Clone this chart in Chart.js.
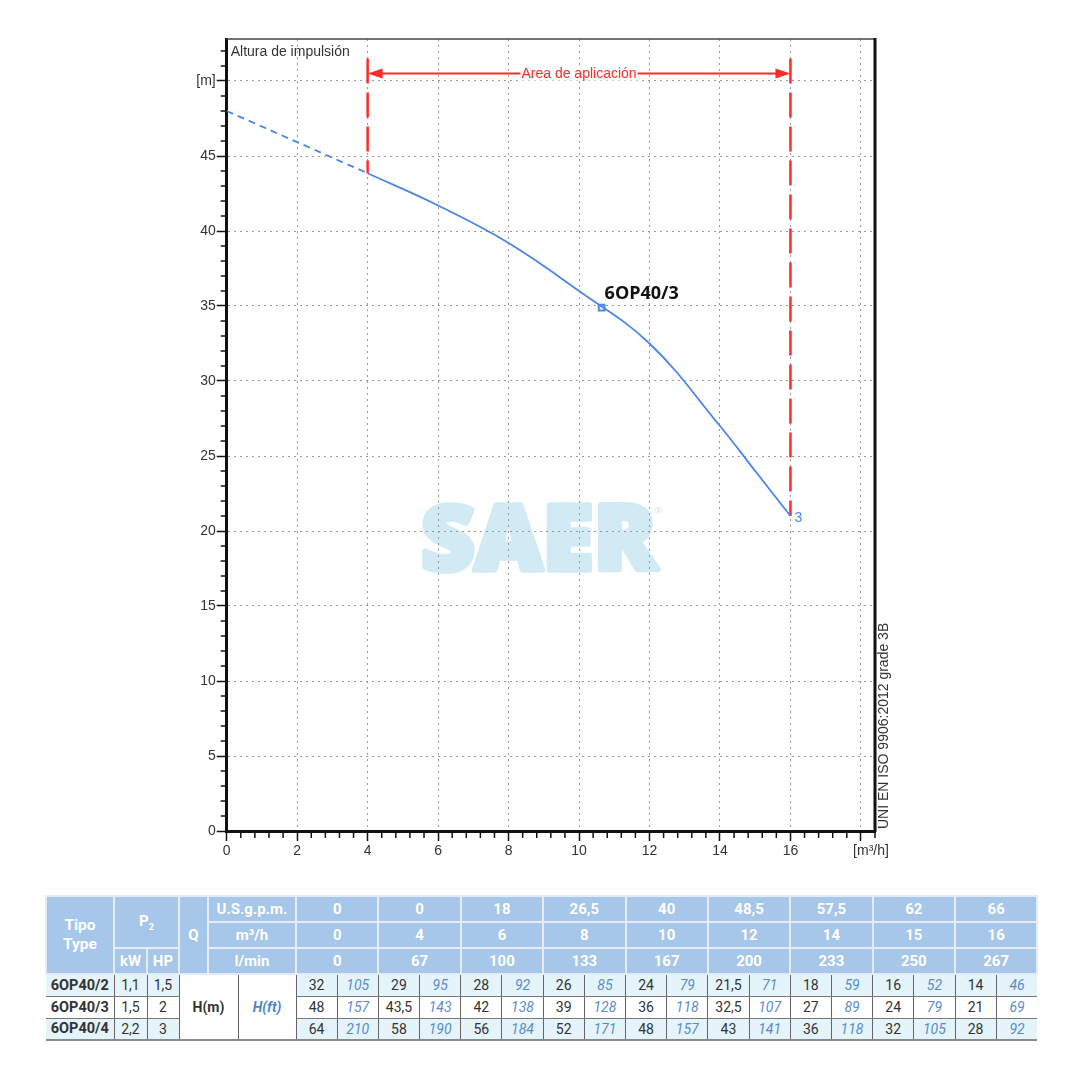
<!DOCTYPE html>
<html><head><meta charset="utf-8">
<script src="https://cdn.jsdelivr.net/npm/chart.js@4.4.0/dist/chart.umd.min.js"></script>
<style>
html,body{margin:0;padding:0;background:#fff;}
#wrap{position:absolute;left:0;top:0;width:1080px;height:880px;}
#tbl{position:absolute;left:45px;top:895px;border-collapse:collapse;table-layout:fixed;font-family:Roboto,"Liberation Sans",sans-serif;}
#tbl td{padding:0;text-align:center;overflow:hidden;white-space:nowrap;box-sizing:border-box;}
#tbl td.h{background:#a6c6ea;color:#fff;font-weight:bold;font-size:15px;border:2px solid #e3ecf7;height:26px;}
#tbl td.d{color:#333;font-size:14px;border-left:1.5px solid #666;border-right:1.5px solid #666;border-bottom:1.5px solid #777;height:22px;}
#tbl td.ft{color:#5a8ccb;font-style:italic;}
#tbl td.tp{font-weight:bold;font-size:14.5px;}
#tbl tr.cy td.d{background:#e4f4fa;}
#tbl tr.last td.d{border-bottom:2.5px solid #8a8a8a;}
#tbl td.hm{background:#fff !important;font-weight:bold;}
#tbl td.hf{background:#fff !important;color:#4f84c6;font-weight:bold;font-style:italic;}
</style></head><body>
<div id="wrap"><canvas id="c" width="1080" height="880"></canvas></div>
<table id="tbl"></table>
<script>
// ---- chart data ----
const qValues = [0, 4, 6, 8, 10, 12, 14, 15, 16];
const headValues = [48, 43.85, 41.7, 39.2, 36, 32.5, 27, 24, 21];
const dutyQ = [10.64];
const dutyH = [34.89];
const areaRange = [4, 16];
const areaTopH = 51.5;
const arrowH = 50.5;
const pumpLabel = '6OP40/3';
const curveTag = '3';

// ---- table data ----
const usgpm = ['0','0','18','26,5','40','48,5','57,5','62','66'];
const m3h = ['0','4','6','8','10','12','14','15','16'];
const lmin = ['0','67','100','133','167','200','233','250','267'];
const types = ['6OP40/2','6OP40/3','6OP40/4'];
const kw = ['1,1','1,5','2,2'];
const hp = ['1,5','2','3'];
const hm2 = [32,29,28,26,24,21.5,18,16,14];
const hm3 = [48,43.5,42,39,36,32.5,27,24,21];
const hm4 = [64,58,56,52,48,43,36,32,28];
const hft2 = [105,95,92,85,79,71,59,52,46];
const hft3 = [157,143,138,128,118,107,89,79,69];
const hft4 = [210,190,184,171,157,141,118,105,92];

const blue = '#4a86e8';
const red = '#ff2a2a';

const dashedPart = qValues.slice(0,2).map((q,i)=>({x:q,y:headValues[i]}));
const solidPart = qValues.slice(1).map((q,i)=>({x:q,y:headValues[i+1]}));
const leftLine = [{x:areaRange[0],y:areaTopH},{x:areaRange[0],y:headValues[qValues.indexOf(areaRange[0])]}];
const rightLine = [{x:areaRange[1],y:areaTopH},{x:areaRange[1],y:headValues[qValues.indexOf(areaRange[1])]}];
const dutyPts = dutyQ.map((q,i)=>({x:q,y:dutyH[i]}));

const F = '"Liberation Sans", Arial, sans-serif';

const watermark = {
  id:'wm',
  beforeDraw(chart){
    const ctx = chart.ctx;
    ctx.save();
    ctx.font = '800 96px "Open Sans", "DejaVu Sans", sans-serif';
    const w = ctx.measureText('SAER').width;
    const x0 = 421, top = 505, base = 572;
    const g = ctx.createLinearGradient(0, top, 0, base);
    g.addColorStop(0, '#d2eaf3'); g.addColorStop(0.38, '#d2eaf3');
    g.addColorStop(0.39, '#b4dff0'); g.addColorStop(0.68, '#b4dff0');
    g.addColorStop(0.69, '#b3cbe2'); g.addColorStop(1, '#b3cbe2');
    ctx.fillStyle = g; ctx.strokeStyle = g;
    ctx.lineWidth = 6; ctx.lineJoin = 'round';
    ctx.translate(x0, base - 2);
    ctx.scale(236 / w, 0.95);
    ctx.textBaseline = 'alphabetic';
    ctx.fillText('SAER', 0, 0);
    ctx.strokeText('SAER', 0, 0);
    ctx.restore();
    ctx.save();
    ctx.fillStyle = '#c4e0ec';
    ctx.font = '9px ' + F;
    ctx.fillText('®', 655, 514);
    ctx.restore();
  }
};

const extras = {
  id:'extras',
  afterDraw(chart){
    const {ctx, chartArea:a, scales:{x, y}} = chart;
    ctx.save();
    // frame top & right
    ctx.strokeStyle = '#444'; ctx.lineWidth = 1.5;
    ctx.beginPath(); ctx.moveTo(a.left, a.top); ctx.lineTo(a.right, a.top); ctx.stroke();
    ctx.strokeStyle = '#111'; ctx.lineWidth = 3;
    ctx.beginPath(); ctx.moveTo(a.right, a.top - 1); ctx.lineTo(a.right, a.bottom + 1); ctx.stroke();
    // minor ticks
    ctx.strokeStyle = '#111'; ctx.lineWidth = 1.5;
    for (let i = 0; i <= 46; i++) {
      if (i % 5 === 0) continue;
      const px = x.getPixelForValue(i * 0.4);
      ctx.beginPath(); ctx.moveTo(px, a.bottom); ctx.lineTo(px, a.bottom + 7); ctx.stroke();
    }
    for (let v = 1; v <= 52; v++) {
      if (v % 5 === 0) continue;
      const py = y.getPixelForValue(v);
      ctx.beginPath(); ctx.moveTo(a.left - 6, py); ctx.lineTo(a.left, py); ctx.stroke();
    }
    // arrow
    const xl = x.getPixelForValue(areaRange[0]), xr = x.getPixelForValue(areaRange[1]);
    const ya = y.getPixelForValue(arrowH);
    ctx.strokeStyle = red; ctx.fillStyle = red; ctx.lineWidth = 2;
    ctx.beginPath(); ctx.moveTo(xl + 10, ya); ctx.lineTo(xr - 10, ya); ctx.stroke();
    ctx.beginPath(); ctx.moveTo(xl, ya); ctx.lineTo(xl + 15, ya - 5); ctx.lineTo(xl + 15, ya + 5); ctx.closePath(); ctx.fill();
    ctx.beginPath(); ctx.moveTo(xr, ya); ctx.lineTo(xr - 15, ya - 5); ctx.lineTo(xr - 15, ya + 5); ctx.closePath(); ctx.fill();
    ctx.font = '14px ' + F;
    const label = 'Area de aplicación';
    const tw = ctx.measureText(label).width;
    const xm = x.getPixelForValue((areaRange[0] + areaRange[1]) / 2);
    ctx.fillStyle = '#fff';
    ctx.fillRect(xm - tw / 2 - 1, ya - 7, tw + 2, 14);
    ctx.fillStyle = red; ctx.textAlign = 'center'; ctx.textBaseline = 'middle';
    ctx.fillText(label, xm, ya + 1);
    // title
    ctx.fillStyle = '#333'; ctx.textAlign = 'left'; ctx.font = '14px ' + F;
    ctx.fillText('Altura de impulsión', a.left + 4, a.top + 13);
    // pump label
    const dp = dutyPts[0];
    ctx.fillStyle = '#111'; ctx.font = 'bold 18px "Open Sans", "Noto Sans", sans-serif';
    ctx.textBaseline = 'alphabetic';
    ctx.fillText(pumpLabel, x.getPixelForValue(dp.x) + 3, y.getPixelForValue(dp.y) - 9);
    // curve tag
    ctx.fillStyle = blue; ctx.font = '14px ' + F; ctx.textBaseline = 'middle';
    ctx.fillText(curveTag, x.getPixelForValue(16) + 4, y.getPixelForValue(headValues[headValues.length - 1]) + 2);
    // unit on x axis
    ctx.fillStyle = '#333'; ctx.textAlign = 'center'; ctx.textBaseline = 'top';
    ctx.fillText('[m³/h]', 871, a.bottom + 13);
    // rotated norm text
    ctx.translate(a.right + 9, a.bottom - 2);
    ctx.rotate(-Math.PI / 2);
    ctx.textAlign = 'left'; ctx.textBaseline = 'middle'; ctx.fillStyle = '#333';
    ctx.font = '14px ' + F;
    ctx.fillText('UNI EN ISO 9906:2012 grade 3B', 0, 0);
    ctx.restore();
  }
};

const gridCommon = {color:'#9a9a9a', lineWidth:1, tickLength:10, tickColor:'#111', tickWidth:1.5};
const borderCommon = {display:true, color:'#111', width:3, dash:[2,4]};
const tickFont = {family:F, size:14};

new Chart(document.getElementById('c'), {
  type:'line',
  data:{datasets:[
    {data:dashedPart, borderColor:blue, borderWidth:1.8, borderDash:[7,5], pointRadius:0},
    {data:solidPart, borderColor:blue, borderWidth:1.8, pointRadius:0, tension:0.4},
    {data:leftLine, borderColor:red, borderWidth:2.5, borderDash:[25,9], pointRadius:0},
    {data:rightLine, borderColor:red, borderWidth:2.5, borderDash:[25,9], pointRadius:0},
    {data:dutyPts, showLine:false, pointStyle:'rect', pointRadius:4, borderColor:blue, backgroundColor:'#fff', pointBorderWidth:2}
  ]},
  options:{
    responsive:false, animation:false,
    layout:{padding:{top:39, right:205, left:0, bottom:0}},
    plugins:{legend:{display:false}, tooltip:{enabled:false}},
    scales:{
      x:{type:'linear', min:0, max:18.4,
        afterFit(s){ s.height = 49; },
        ticks:{stepSize:2, includeBounds:false, color:'#333', font:tickFont, padding:2, maxRotation:0, autoSkip:false,
          callback:v => v === 18 ? '' : v},
        grid:gridCommon, border:borderCommon},
      y:{type:'linear', min:0, max:52.8,
        afterFit(s){ s.width = 226.7; },
        ticks:{stepSize:5, includeBounds:false, color:'#333', font:tickFont, padding:1,
          callback:v => v === 50 ? '[m]' : v},
        grid:gridCommon, border:borderCommon}
    }
  },
  plugins:[watermark, extras]
});

// ---- table ----
const fmt = v => String(v).replace('.', ',');
const colW = [68,33,32,29,30,58];
for (let i = 0; i < 18; i++) colW.push(41.2);
let html = '<colgroup>' + colW.map(w => '<col style="width:' + w + 'px">').join('') + '</colgroup>';
html += '<tr><td class="h" rowspan="3" style="font-size:15.5px;line-height:19px">Tipo<br>Type</td><td class="h" colspan="2" rowspan="2">P<sub style="font-size:9px">2</sub></td><td class="h" rowspan="3">Q</td><td class="h" colspan="2">U.S.g.p.m.</td>' + usgpm.map(v => '<td class="h" colspan="2">' + v + '</td>').join('') + '</tr>';
html += '<tr><td class="h" colspan="2">m³/h</td>' + m3h.map(v => '<td class="h" colspan="2">' + v + '</td>').join('') + '</tr>';
html += '<tr><td class="h">kW</td><td class="h">HP</td><td class="h" colspan="2">l/min</td>' + lmin.map(v => '<td class="h" colspan="2">' + v + '</td>').join('') + '</tr>';
const hmRows = [hm2, hm3, hm4], hftRows = [hft2, hft3, hft4];
types.forEach((t, r) => {
  let row = '<tr class="' + (r !== 1 ? 'cy' : '') + (r === 2 ? ' last' : '') + '">';
  row += '<td class="d tp" style="border-left:none">' + t + '</td><td class="d">' + kw[r] + '</td><td class="d">' + hp[r] + '</td>';
  if (r === 0) row += '<td class="d hm" colspan="2" rowspan="3" style="border-bottom:2.5px solid #8a8a8a">H(m)</td><td class="d hf" rowspan="3" style="border-bottom:2.5px solid #8a8a8a">H(ft)</td>';
  hmRows[r].forEach((v, i) => { row += '<td class="d">' + fmt(v) + '</td><td class="d ft"' + (i === 8 ? ' style="border-right:none"' : '') + '>' + hftRows[r][i] + '</td>'; });
  row += '</tr>';
  html += row;
});
document.getElementById('tbl').innerHTML = html;
</script>
</body></html>
